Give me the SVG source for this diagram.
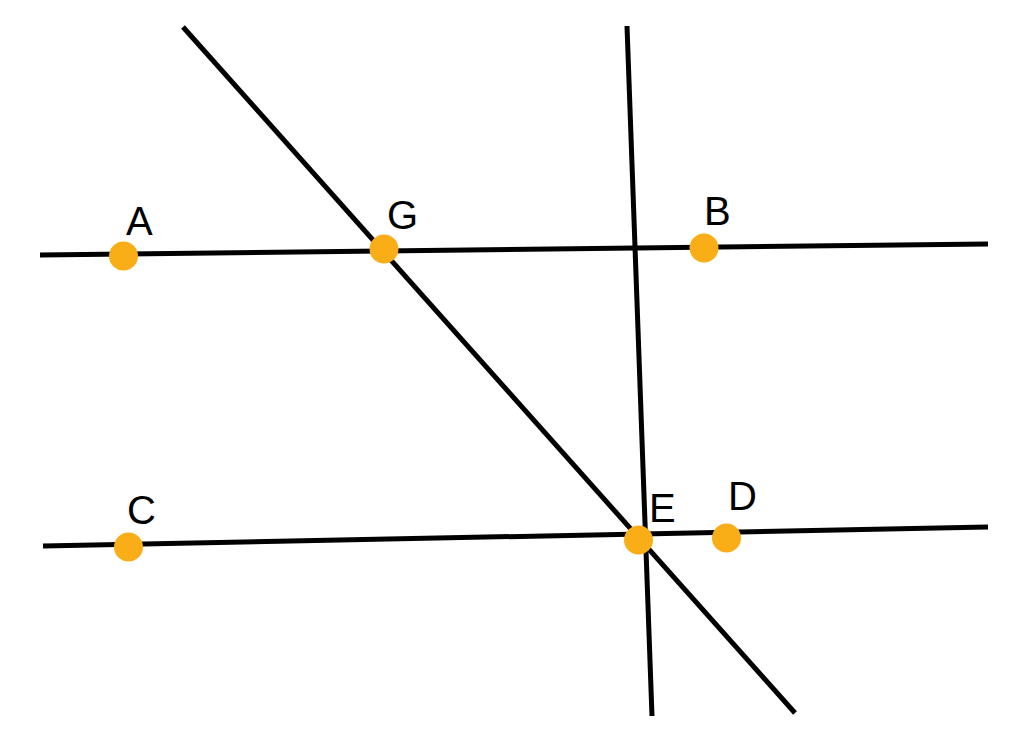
<svg xmlns="http://www.w3.org/2000/svg" width="1030" height="749" viewBox="0 0 1030 749">
<style>
.ln{stroke:#000;stroke-width:5;fill:none}
.pt{fill:#F9AE17}
.lb{font-family:"Liberation Sans",Arial,sans-serif;font-size:40px;fill:#000}
</style>
<rect width="1030" height="749" fill="#fff"/>
<g id="connectors">
<line class="ln" x1="40" y1="255" x2="988" y2="244"/>
<line class="ln" x1="43" y1="546" x2="988" y2="527"/>
<line class="ln" x1="183" y1="27" x2="795" y2="713"/>
<line class="ln" x1="627" y1="26" x2="652" y2="716"/>
</g>
<g id="A"><circle class="pt" cx="123.5" cy="256" r="14.5"/><text class="lb" x="126" y="235">A</text></g>
<g id="G"><circle class="pt" cx="384" cy="249" r="14.5"/><text class="lb" x="387" y="229">G</text></g>
<g id="B"><circle class="pt" cx="704" cy="248" r="14.5"/><text class="lb" x="704" y="225">B</text></g>
<g id="C"><circle class="pt" cx="128.5" cy="547" r="14.5"/><text class="lb" x="127" y="524">C</text></g>
<g id="E"><circle class="pt" cx="638.5" cy="540" r="14.5"/><text class="lb" x="649" y="522">E</text></g>
<g id="D"><circle class="pt" cx="726.5" cy="538" r="14.5"/><text class="lb" x="728" y="510">D</text></g>
</svg>
